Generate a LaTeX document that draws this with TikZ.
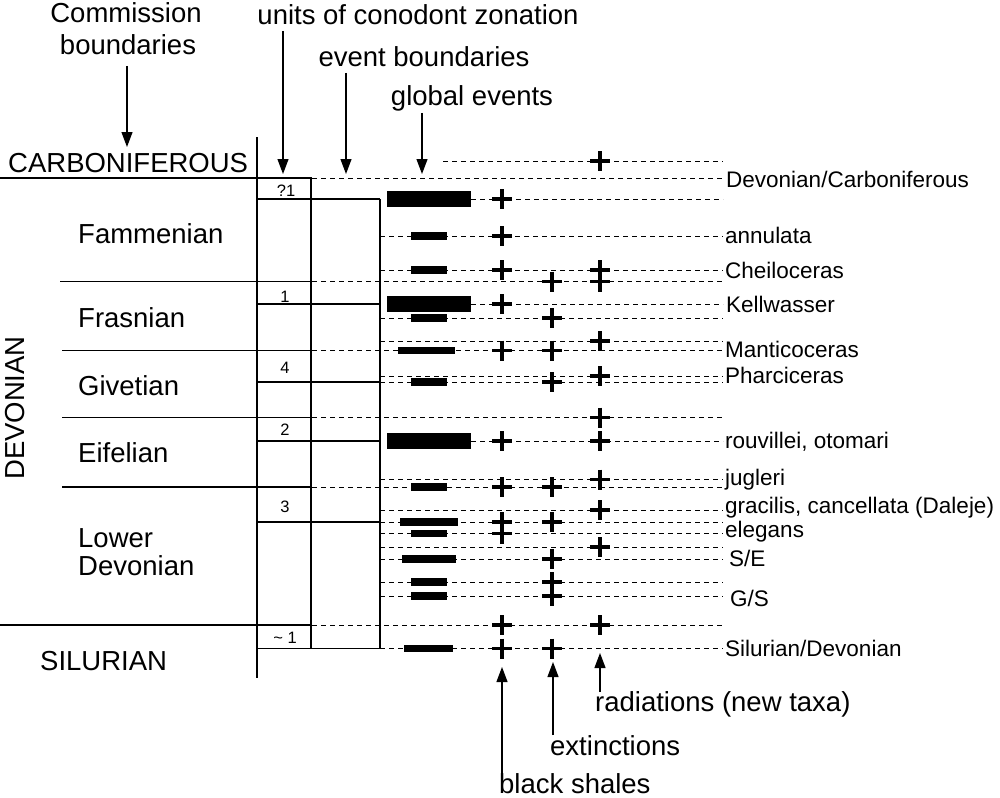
\documentclass[tikz,border=0pt]{standalone}
\usepackage{fontspec}
\setmainfont{Liberation Sans}
\usetikzlibrary{arrows.meta}
\newcommand\myplus[2]{\draw[plusmark] (#1-10,#2) -- (#1+10,#2) (#1,#2-10) -- (#1,#2+10);}
\newcommand\mybar[3]{\fill (#1,#3-3.6) rectangle (#2,#3+3.6);}
\newcommand\mybigbar[1]{\fill (387,#1-8) rectangle (471,#1+8);}
\begin{document}
\begin{tikzpicture}[x=1pt,y=-1pt,
  solidline/.style={line width=1.2pt},
  dline/.style={line width=0.9pt, dash pattern=on 5pt off 4pt},
  plusmark/.style={line width=3.2pt},
  big/.style={font=\fontsize{27.5}{30}\selectfont, inner sep=0pt},
  lab/.style={font=\fontsize{22.5}{25}\selectfont, inner sep=0pt, anchor=base west},
  num/.style={font=\fontsize{16.5}{18}\selectfont, inner sep=0pt, anchor=base},
  arr/.style={line width=1.2pt, -{Triangle[width=11pt,length=15pt]}}]
\useasboundingbox[fill=white] (0,0) rectangle (1000,797);

% ---- top headings and arrows
\node[big, anchor=base] (comm1) at (126,23) {Commission};
\node[big, anchor=base] (comm2) at (128,55) {boundaries};
\node[big, anchor=base] (units) at (418,25) {units of conodont zonation};
\node[big, anchor=base] (evb) at (424,67) {event boundaries};
\node[big, anchor=base] (glob) at (472,106) {global events};
\coordinate (commA) at (127,66);  \coordinate (commB) at (127,147);
\coordinate (unitA) at (283,31);  \coordinate (unitB) at (283,174);
\coordinate (evbA) at (346,73);   \coordinate (evbB) at (346,174);
\coordinate (globA) at (422,113); \coordinate (globB) at (422,174);
\draw[arr] (commA) -- (commB);
\draw[arr] (unitA) -- (unitB);
\draw[arr] (evbA) -- (evbB);
\draw[arr] (globA) -- (globB);

% ---- stage names
\node[big, anchor=base west] (carb) at (8,172) {CARBONIFEROUS};
\node[big, anchor=base west] (famm) at (78,243) {Fammenian};
\node[big, anchor=base west] (fras) at (78,327) {Frasnian};
\node[big, anchor=base west] (give) at (78,395) {Givetian};
\node[big, anchor=base west] (eife) at (78,462) {Eifelian};
\node[big, anchor=base west] (low1) at (78,547) {Lower};
\node[big, anchor=base west] (low2) at (78,575) {Devonian};
\node[big, anchor=base west] (silu) at (40,670) {SILURIAN};
\node[big, rotate=90] (devo) at (15,408) {DEVONIAN};

% ---- commission boundaries
\draw[solidline] (0,178) -- (312,178);
\draw[solidline] (60,281.5) -- (311,281.5);
\draw[solidline] (62,350.5) -- (311,350.5);
\draw[solidline] (62,417.5) -- (311,417.5);
\draw[solidline] (62,487) -- (311,487);
\draw[solidline] (0,625) -- (311,625);
% verticals
\draw[solidline] (257,137) -- (257,678);
\draw[solidline] (311,178) -- (311,648.5);
\draw[solidline] (380,199) -- (380,648.5);
% unit boundaries
\foreach \y in {199,304,382,441,522,648.5}
  {\draw[solidline] (257,\y) -- (380,\y);}

% ---- unit numbers
\node[num] (u1) at (286,196) {?1};
\node[num] (u2) at (285,302) {1};
\node[num] (u3) at (285,373) {4};
\node[num] (u4) at (285,435) {2};
\node[num] (u5) at (285,512) {3};
\node[num] (u6) at (285,643) {\textasciitilde\ 1};

% ---- dashed event lines
\foreach \xa/\y in {443/161,312/178,471/199,380/236,380/270,312/281.5,471/304,
  380/318,380/341,312/350.5,380/376,380/382,312/417.5,471/441,380/479.5,
  312/487,380/510,380/522,380/533.5,380/547,380/559,380/582,380/596,
  312/625,380/648.5}
  {\draw[dline] (\xa,\y) -- (723,\y);}

% ---- bars (global events)
\mybigbar{199}
\mybigbar{304}
\mybigbar{441}
\foreach \y in {236,270,318,382,487,533.5,582,596}
  {\mybar{411}{447}{\y}}
\mybar{398}{455}{350.5}
\mybar{400}{458}{522}
\mybar{402}{456}{559}
\mybar{404}{453}{648.5}

% ---- plus marks
\foreach \y in {199,236,270,304,350.5,441,487,522,533.5,625,648.5}
  {\myplus{502}{\y}}
\foreach \y in {281.5,318,350.5,382,487,522,559,582,596,648.5}
  {\myplus{552}{\y}}
\foreach \y in {161,270,281.5,341,376,417.5,441,479.5,510,547,625}
  {\myplus{600}{\y}}

% ---- right labels
\node[lab] (l1) at (726,187) {Devonian/Carboniferous};
\node[lab] (l2) at (725,243) {annulata};
\node[lab] (l3) at (725,278) {Cheiloceras};
\node[lab] (l4) at (726,312) {Kellwasser};
\node[lab] (l5) at (725,357) {Manticoceras};
\node[lab] (l6) at (725,383) {Pharciceras};
\node[lab] (l7) at (725,448) {rouvillei, otomari};
\node[lab] (l8) at (725,485) {jugleri};
\node[lab] (l9) at (725,513) {gracilis, cancellata (Daleje)};
\node[lab] (l10) at (725,537) {elegans};
\node[lab] (l11) at (729,566) {S/E};
\node[lab] (l12) at (730,606) {G/S};
\node[lab] (l13) at (725,656) {Silurian/Devonian};

% ---- bottom legend
\node[big, anchor=base west] (rad) at (595,711) {radiations (new taxa)};
\node[big, anchor=base west] (ext) at (550,755) {extinctions};
\node[big, anchor=base west] (bsh) at (499,793) {black shales};
\coordinate (radA) at (600,692); \coordinate (radB) at (600,653);
\coordinate (extA) at (553,735); \coordinate (extB) at (553,662);
\coordinate (bshA) at (502,775); \coordinate (bshB) at (502,667);
\draw[arr] (radA) -- (radB);
\draw[arr] (extA) -- (extB);
\draw[arr] (bshA) -- (bshB);
\end{tikzpicture}
\end{document}
